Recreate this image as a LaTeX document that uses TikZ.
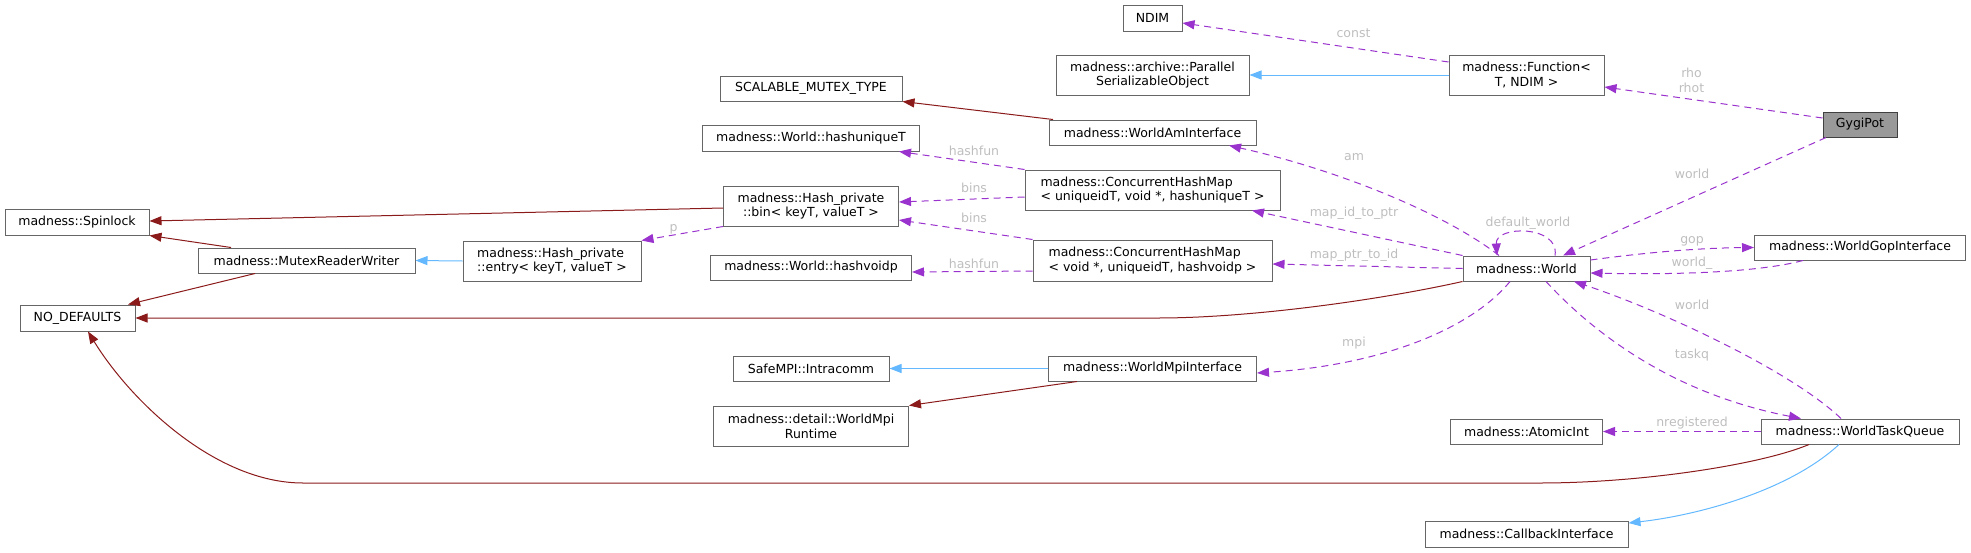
\documentclass[tikz,border=0pt]{standalone}
\usepackage{fontspec}
\setmainfont{DejaVu Sans}
\usetikzlibrary{arrows.meta}

\definecolor{edgered}{HTML}{8B1A1A}
\definecolor{edgeblue}{HTML}{63B8FF}
\definecolor{edgepurple}{HTML}{9A32CD}
\definecolor{lblgray}{HTML}{BEBEBE}
\definecolor{boxgray}{HTML}{666666}
\definecolor{focusfill}{HTML}{999999}
\definecolor{focusdraw}{HTML}{404040}

\begin{document}
\begin{tikzpicture}[x=1pt, y=-1pt,
	cls/.style={draw=boxgray, line width=1pt, fill=white, inner sep=1pt, font=\fontsize{12.5}{14.7}\selectfont},
	focus/.style={cls, draw=focusdraw, fill=focusfill},
	lbl/.style={text=lblgray, inner sep=0pt, font=\fontsize{12.5}{14.7}\selectfont},
	tip/.style={-{Triangle[length=12pt, width=9pt]}, line width=1pt},
	inh/.style={tip, draw=edgered},
	pub/.style={tip, draw=edgeblue},
	use/.style={tip, draw=edgepurple, dash pattern=on 7pt off 5pt}]
	\useasboundingbox (0,0) rectangle (1971,552);

	% classes
	\node[cls, minimum width=59, minimum height=26] (ndim) at (1152.5,18) {NDIM};
	\node[cls, minimum width=193, minimum height=40, align=center] (pso) at (1152.5,75) {madness::archive::Parallel\\SerializableObject};
	\node[cls, minimum width=155, minimum height=40, align=center] (func) at (1526.5,75) {madness::Function<\\T, NDIM >};
	\node[focus, minimum width=74, minimum height=25] (gygi) at (1860,124.5) {GygiPot};
	\node[cls, minimum width=182, minimum height=25] (smt) at (811,88.5) {SCALABLE\_MUTEX\_TYPE};
	\node[cls, minimum width=207, minimum height=25] (wam) at (1152.5,132.5) {madness::WorldAmInterface};
	\node[cls, minimum width=217, minimum height=26] (hut) at (811,138) {madness::World::hashuniqueT};
	\node[cls, minimum width=255, minimum height=40, align=left] (chmid) at (1152.5,190) {madness::ConcurrentHashMap\\< uniqueidT, void *, hashuniqueT >};
	\node[cls, minimum width=175, minimum height=40, align=center] (hbin) at (811,206) {madness::Hash\_private\\::bin< keyT, valueT >};
	\node[cls, minimum width=239, minimum height=41, align=left] (chmptr) at (1152.5,260.5) {madness::ConcurrentHashMap\\< void *, uniqueidT, hashvoidp >};
	\node[cls, minimum width=201, minimum height=25] (hvp) at (811,267.5) {madness::World::hashvoidp};
	\node[cls, minimum width=144, minimum height=26] (spin) at (77,222) {madness::Spinlock};
	\node[cls, minimum width=217, minimum height=25] (mrw) at (306.5,260.5) {madness::MutexReaderWriter};
	\node[cls, minimum width=178, minimum height=40, align=left] (hentry) at (552,261) {madness::Hash\_private\\::entry< keyT, valueT >};
	\node[cls, minimum width=127, minimum height=25] (world) at (1526.5,268.5) {madness::World};
	\node[cls, minimum width=211, minimum height=25] (gop) at (1860,247.5) {madness::WorldGopInterface};
	\node[cls, minimum width=115, minimum height=26] (nodef) at (77.5,318) {NO\_DEFAULTS};
	\node[cls, minimum width=156, minimum height=25] (intra) at (811,368.5) {SafeMPI::Intracomm};
	\node[cls, minimum width=208, minimum height=25] (wmpi) at (1152.5,368.5) {madness::WorldMpiInterface};
	\node[cls, minimum width=195, minimum height=40, align=center] (mpirt) at (811,426) {madness::detail::WorldMpi\\Runtime};
	\node[cls, minimum width=152, minimum height=25] (aint) at (1526.5,431.5) {madness::AtomicInt};
	\node[cls, minimum width=198, minimum height=25] (wtq) at (1860,431.5) {madness::WorldTaskQueue};
	\node[cls, minimum width=203, minimum height=26] (cbi) at (1526.5,534) {madness::CallbackInterface};

	% solid edges
	\draw[pub] (func.west) -- (pso.east);
	\draw[inh] (1053,0 |- wam.north) -- (smt.south east);
	\draw[inh] (hbin.west |- 0,208) -- (spin.east |- 0,221);
	\draw[pub] (hentry.west) -- (mrw.east);
	\draw[inh] (231,0 |- mrw.north) -- (spin.south east);
	\draw[inh] (255,0 |- mrw.south) -- (128,0 |- nodef.north);
	\draw[inh] (world.south west) .. controls (1380,300) and (1250,318) .. (1158,318) -- (nodef.east);
	\draw[inh] (1809,0 |- wtq.south) .. controls (1760,465) and (1640,483) .. (1540,483) -- (303,483)
		.. controls (215,483) and (130,400) .. (88,0 |- nodef.south);
	\draw[pub] (1839,0 |- wtq.south) .. controls (1790,490) and (1700,515) .. (cbi.east |- 0,523);
	\draw[pub] (wmpi.west) -- (intra.east);
	\draw[inh] (1077,0 |- wmpi.south) -- (mpirt.north east);

	% members
	\draw[use] (func.west |- 0,62) -- (ndim.east |- 0,23);
	\draw[use] (gygi.west |- 0,118) -- (func.east |- 0,87);
	\draw[use] (1826,0 |- gygi.south) -- (1563,0 |- world.north);
	\draw[use] (1499,0 |- world.north) .. controls (1440,210) and (1330,168) .. (1229,0 |- wam.south);
	\draw[use] (chmid.north west) -- (899,0 |- hut.south);
	\draw[use] (chmid.west |- 0,197) -- (hbin.east |- 0,202);
	\draw[use] (chmptr.north west) -- (hbin.east |- 0,220);
	\draw[use] (chmptr.west |- 0,271) -- (hvp.east |- 0,272);
	\draw[use] (world.north west) -- (1252,0 |- chmid.south);
	\draw[use] (world.west) -- (chmptr.east |- 0,264);
	\draw[use] (hbin.south west) -- (hentry.north east);
	\draw[use] (1555,0 |- world.north) .. controls (1560,225) and (1495,225) .. (1497,0 |- world.north);
	\draw[use] (world.east |- 0,260) .. controls (1650,252) and (1700,248) .. (gop.west);
	\draw[use] (1803,0 |- gop.south) .. controls (1760,272) and (1680,275) .. (world.east |- 0,273);
	\draw[use] (1510,0 |- world.south) .. controls (1470,330) and (1380,365) .. (wmpi.east |- 0,373);
	\draw[use] (1546,0 |- world.south) .. controls (1600,340) and (1680,395) .. (1801,0 |- wtq.north);
	\draw[use] (1841,0 |- wtq.north) .. controls (1790,370) and (1660,310) .. (1574,0 |- world.south);
	\draw[use] (wtq.west) -- (aint.east);

	% edge labels
	\node[lbl] (lconst) at (1353.5,33) {const};
	\node[lbl, align=center] (lrho) at (1691.5,80) {rho\\rhot};
	\node[lbl] (lworlda) at (1692,174) {world};
	\node[lbl] (lam) at (1354,157) {am};
	\node[lbl] (lhfa) at (974,151) {hashfun};
	\node[lbl] (lbinsa) at (974,188) {bins};
	\node[lbl] (lbinsb) at (974,218) {bins};
	\node[lbl] (lhfb) at (974,264) {hashfun};
	\node[lbl] (lidptr) at (1354,213) {map\_id\_to\_ptr};
	\node[lbl] (lptrid) at (1354,255) {map\_ptr\_to\_id};
	\node[lbl] (lp) at (673.5,229) {p};
	\node[lbl] (ldef) at (1528,223) {default\_world};
	\node[lbl] (lgop) at (1692,241) {gop};
	\node[lbl] (lworldb) at (1692,263) {world\_};
	\node[lbl] (lmpi) at (1354,343) {mpi};
	\node[lbl] (lworldc) at (1692,305) {world};
	\node[lbl] (ltaskq) at (1692,355) {taskq};
	\node[lbl] (lnreg) at (1692,423) {nregistered};
\end{tikzpicture}
\end{document}
